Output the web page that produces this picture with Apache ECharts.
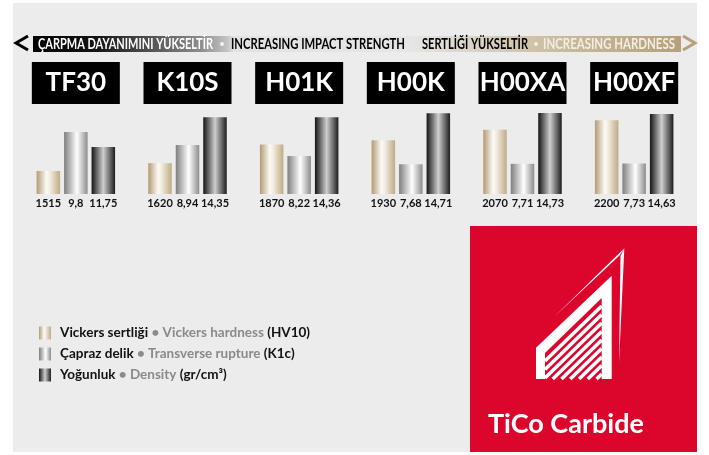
<!DOCTYPE html>
<html>
<head>
<meta charset="utf-8">
<script src="https://cdn.jsdelivr.net/npm/echarts@6/dist/echarts.min.js"></script>
<style>
  html, body { margin: 0; padding: 0; background: #fff; }
  #main { width: 709px; height: 455px; }
</style>
</head>
<body>
<div id="main"></div>
<script>
// kalite isimleri ve degerler
const grades = ['TF30', 'K10S', 'H01K', 'H00K', 'H00XA', 'H00XF']
const hardness = [1515, 1620, 1870, 1930, 2070, 2200]
const rupture = [9.8, 8.94, 8.22, 7.68, 7.71, 7.73]
const density = [11.75, 14.35, 14.36, 14.71, 14.73, 14.63]
const seriesNames = ['Vickers sertliği', 'Çapraz delik', 'Yoğunluk']
const legendEn = ['Vickers hardness', 'Transverse rupture', 'Density']
const legendUnit = ['(HV10)', '(K1c)', '(gr/cm³)']

const chart = echarts.init(document.getElementById('main'))
const LG = echarts.graphic.LinearGradient

const gold = new LG(0, 0, 1, 0, [
  { offset: 0, color: '#b19b74' },
  { offset: 0.42, color: '#fcfaf5' },
  { offset: 0.55, color: '#f3eee3' },
  { offset: 1, color: '#bfab86' }
])
const silver = new LG(0, 0, 1, 0, [
  { offset: 0, color: '#7e7e7e' },
  { offset: 0.55, color: '#ffffff' },
  { offset: 1, color: '#8c8c8c' }
])
const dark = new LG(0, 0, 1, 0, [
  { offset: 0, color: '#141414' },
  { offset: 0.5, color: '#cfcfcf' },
  { offset: 1, color: '#1c1c1c' }
])
const colors = [gold, silver, dark]

const fmt = (p) => String(p.value).replace('.', ',')

const barLabel = {
  show: true,
  position: 'bottom',
  distance: 4,
  formatter: fmt,
  color: '#111',
  fontSize: 11,
  fontWeight: 'bold',
  fontFamily: 'Lato'
}

// banner yazilari: genislige gore yatay sikistir
const bannerFont = 'bold 15px Lato'
const mctx = document.createElement('canvas').getContext('2d')
function bannerText(text, x, w, fill) {
  mctx.font = bannerFont
  const nat = mctx.measureText(text).width
  return {
    type: 'text', z: 2, x: x, y: 44.5, scaleX: w / nat,
    style: { text: text, font: bannerFont, fill: fill, verticalAlign: 'middle' }
  }
}
function bullet(x, fill) {
  return { type: 'circle', z: 2, shape: { cx: x, cy: 44, r: 2 }, style: { fill: fill } }
}

// logo taramasi (cizgiler)
const stripes = []
for (let y0 = 361; y0 <= 430; y0 += 8.5) {
  let x1 = 545, y1 = y0
  if (y0 > 379) { x1 = 545 + (y0 - 379) / 0.97; y1 = 379 }
  stripes.push({
    type: 'line', z: 5,
    shape: { x1: x1, y1: y1, x2: 601.7, y2: y0 - 55 },
    style: { stroke: '#fff', lineWidth: 3.5 }
  })
}

const option = {
  animation: false,
  grid: { left: 20, right: 19, top: 110, bottom: 261 },
  xAxis: {
    type: 'category',
    position: 'top',
    data: grades,
    axisLine: { show: false },
    axisTick: { show: false },
    axisLabel: {
      interval: 0,
      margin: 6,
      color: '#fff',
      backgroundColor: '#000',
      width: 88,
      height: 42,
      lineHeight: 42,
      align: 'center',
      fontSize: 26,
      fontWeight: 'bold',
      fontFamily: 'Lato'
    }
  },
  yAxis: [
    { type: 'value', show: false, min: 1204, max: 2337 },
    { type: 'value', show: false, min: 5.73, max: 11.24 },
    { type: 'value', show: false, min: 7.65, max: 14.99 }
  ],
  legend: {
    orient: 'vertical',
    left: 34,
    top: 321,
    itemWidth: 12,
    itemHeight: 13,
    itemGap: 7,
    icon: 'rect',
    data: seriesNames,
    formatter: (name) => {
      const i = seriesNames.indexOf(name)
      return '{b|' + name + '} {g|• ' + legendEn[i] + '} {b|' + legendUnit[i] + '}'
    },
    textStyle: {
      padding: [0, 0, 0, 4],
      rich: {
        b: { color: '#111', fontSize: 13.5, fontWeight: 'bold', fontFamily: 'Lato' },
        g: { color: '#8a8a8a', fontSize: 13.5, fontWeight: 'bold', fontFamily: 'Lato' }
      }
    }
  },
  series: [hardness, rupture, density].map((d, i) => ({
    name: seriesNames[i],
    type: 'bar',
    yAxisIndex: i,
    data: d,
    barWidth: 23.5,
    barGap: '17%',
    itemStyle: { color: colors[i] },
    label: barLabel
  })),
  graphic: [
    { type: 'rect', z: -10, shape: { x: 13, y: 3, width: 684, height: 449 }, style: { fill: '#ececec' } },
    {
      type: 'rect', z: 1,
      shape: { x: 33, y: 36, width: 648, height: 16 },
      style: {
        fill: new LG(0, 0, 1, 0, [
          { offset: 0, color: '#000' },
          { offset: 0.1, color: '#151515' },
          { offset: 0.26, color: '#8e8e8e' },
          { offset: 0.3, color: '#c4c4c4' },
          { offset: 0.31, color: '#e2e2e2' },
          { offset: 0.58, color: '#e6e6e6' },
          { offset: 0.8, color: '#cbbd9f' },
          { offset: 1, color: '#b5a07a' }
        ])
      }
    },
    { type: 'polyline', z: 2, shape: { points: [[28, 36], [16, 43], [28, 50]] }, style: { stroke: '#000', lineWidth: 3, fill: null } },
    { type: 'polyline', z: 2, shape: { points: [[683, 36], [695, 43], [683, 50]] }, style: { stroke: '#b5a07a', lineWidth: 3, fill: null } },
    bannerText('ÇARPMA DAYANIMINI YÜKSELTİR', 38, 175, '#fff'),
    bullet(222, '#f2f2f2'),
    bannerText('INCREASING IMPACT STRENGTH', 231, 174, '#000'),
    bannerText('SERTLİĞİ YÜKSELTİR', 422, 106, '#000'),
    bullet(536, '#f3eee4'),
    bannerText('INCREASING HARDNESS', 543, 132, '#f3eee4'),
    // kirmizi logo kutusu
    { type: 'rect', z: 3, shape: { x: 470, y: 226, width: 227, height: 226 }, style: { fill: '#dc062d' } },
    { type: 'polygon', z: 4, shape: { points: [[536, 379], [536, 347.7], [611.7, 275.7], [611.7, 379]] }, style: { fill: '#fff' } },
    { type: 'polygon', z: 4, shape: { points: [[545, 379], [545, 353], [601.7, 298], [601.7, 379]] }, style: { fill: '#dc062d' } },
    ...stripes,
    { type: 'polygon', z: 6, shape: { points: [[554.3, 316.7], [624.3, 248.3], [619.5, 255.5]] }, style: { fill: '#fff' } },
    { type: 'polygon', z: 6, shape: { points: [[624.3, 248.3], [620.5, 256], [619, 363.3]] }, style: { fill: '#fff' } },
    { type: 'text', z: 7, x: 488, y: 424, style: { text: 'TiCo Carbide', font: 'bold 27px Lato', fill: '#fff', verticalAlign: 'middle' } }
  ]
}

chart.setOption(option)
</script>
</body>
</html>
